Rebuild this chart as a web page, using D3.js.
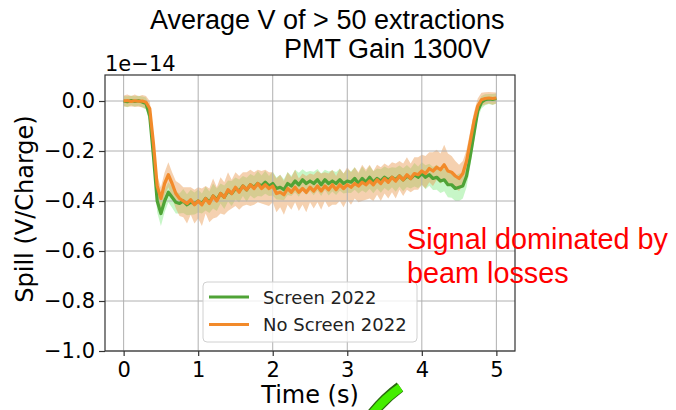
<!DOCTYPE html>
<html>
<head>
<meta charset="utf-8">
<script src="https://cdn.jsdelivr.net/npm/d3@7"></script>
<style>
    body { margin: 0; background: #fff; }
    #chart { width: 676px; height: 410px; }
    .tick text { font-family: "DejaVu Sans", sans-serif; font-size: 21px; fill: #000; }
</style>
</head>
<body>
<div id="chart"></div>
<script>

// sample times, one every 0.05 s from 0 to 5 s
const times = d3.range(101).map(function(i) { return i * 0.05; });

// mean spill (units of 1e-14 V/Charge)
const screenMean = [0.0,-0.003,0.002,-0.002,0.001,-0.004,-0.01,
    -0.06,-0.22,-0.40,-0.45,-0.40,-0.365,-0.385,
    -0.405,-0.41,-0.40,-0.415,-0.405,-0.41,-0.40,
    -0.41,-0.39,-0.405,-0.38,-0.395,-0.37,-0.385,-0.36,-0.37,-0.35,
    -0.36,-0.34,-0.355,-0.335,-0.345,-0.33,-0.34,-0.325,-0.34,-0.33,
    -0.35,-0.345,-0.355,-0.33,-0.34,-0.32,-0.335,-0.315,-0.33,-0.32,
    -0.33,-0.315,-0.335,-0.315,-0.33,-0.32,-0.33,-0.315,-0.33,-0.32,
    -0.325,-0.31,-0.33,-0.31,-0.325,-0.305,-0.325,-0.31,-0.32,-0.305,
    -0.315,-0.305,-0.315,-0.30,-0.315,-0.30,-0.31,-0.295,-0.305,-0.29,
    -0.305,-0.295,-0.31,-0.305,-0.32,-0.315,-0.335,-0.335,-0.35,-0.345,
    -0.34,-0.30,-0.22,-0.13,-0.04,-0.005,0.005,0.008,0.006,0.01];

const noScreenMean = [0.0,0.002,-0.002,0.001,-0.001,0.0,-0.005,
    -0.03,-0.17,-0.34,-0.39,-0.33,-0.295,-0.33,
    -0.37,-0.39,-0.40,-0.41,-0.395,-0.415,-0.40,
    -0.415,-0.39,-0.41,-0.38,-0.40,-0.37,-0.385,-0.355,-0.37,-0.345,
    -0.365,-0.34,-0.355,-0.335,-0.35,-0.33,-0.35,-0.335,-0.35,-0.34,
    -0.37,-0.365,-0.375,-0.35,-0.365,-0.345,-0.365,-0.35,-0.365,-0.345,
    -0.36,-0.34,-0.36,-0.34,-0.355,-0.335,-0.355,-0.335,-0.35,-0.335,
    -0.345,-0.33,-0.34,-0.325,-0.335,-0.32,-0.335,-0.315,-0.33,-0.31,
    -0.325,-0.305,-0.32,-0.30,-0.315,-0.295,-0.31,-0.29,-0.295,-0.28,
    -0.29,-0.27,-0.28,-0.265,-0.275,-0.255,-0.28,-0.285,-0.30,-0.31,
    -0.29,-0.24,-0.16,-0.08,-0.02,0.005,0.01,0.012,0.01,0.012];

// spread of the shaded bands
const screenSpread = [0.02,0.022,0.019,0.021,0.02,0.022,0.024,
    0.03,0.04,0.045,0.05,0.045,0.04,0.042,
    0.045,0.04,0.048,0.042,0.05,0.044,0.046,
    0.04,0.048,0.043,0.05,0.045,0.04,0.047,0.042,0.05,0.044,
    0.046,0.04,0.048,0.043,0.045,0.05,0.042,0.046,0.04,0.048,
    0.044,0.05,0.042,0.046,0.04,0.045,0.048,0.042,0.046,0.04,
    0.047,0.043,0.045,0.04,0.048,0.042,0.046,0.044,0.04,0.047,
    0.043,0.045,0.04,0.048,0.042,0.046,0.044,0.04,0.047,0.043,
    0.045,0.04,0.048,0.042,0.046,0.044,0.04,0.047,0.043,0.045,
    0.048,0.044,0.046,0.05,0.048,0.046,0.05,0.052,0.05,0.055,
    0.05,0.045,0.04,0.035,0.03,0.025,0.022,0.02,0.022,0.02];

const noScreenLow = [0.022,0.025,0.02,0.024,0.022,0.025,0.026,
    0.03,0.04,0.05,0.055,0.05,0.05,0.055,
    0.06,0.07,0.065,0.08,0.06,0.075,0.07,
    0.085,0.06,0.075,0.09,0.065,0.08,0.07,0.085,0.06,0.075,
    0.07,0.08,0.06,0.085,0.065,0.075,0.06,0.08,0.07,0.065,
    0.075,0.06,0.08,0.065,0.07,0.06,0.075,0.065,0.08,0.06,
    0.07,0.065,0.075,0.06,0.07,0.08,0.06,0.065,0.075,0.06,
    0.07,0.06,0.065,0.075,0.06,0.07,0.065,0.06,0.07,0.06,
    0.065,0.06,0.07,0.055,0.065,0.06,0.055,0.065,0.06,0.055,
    0.06,0.055,0.06,0.05,0.055,0.06,0.05,0.055,0.05,0.05,
    0.045,0.04,0.035,0.03,0.028,0.025,0.024,0.022,0.025,0.022];

const noScreenHigh = [0.022,0.024,0.022,0.025,0.02,0.024,0.025,
    0.03,0.035,0.04,0.045,0.045,0.05,0.045,
    0.05,0.06,0.055,0.065,0.05,0.06,0.055,
    0.065,0.05,0.06,0.07,0.055,0.065,0.06,0.07,0.055,0.06,
    0.065,0.055,0.07,0.06,0.065,0.055,0.07,0.06,0.065,0.055,
    0.06,0.07,0.055,0.065,0.06,0.07,0.055,0.06,0.065,0.055,
    0.065,0.06,0.07,0.055,0.065,0.06,0.055,0.065,0.06,0.07,
    0.06,0.065,0.055,0.07,0.06,0.065,0.055,0.06,0.065,0.06,
    0.065,0.06,0.07,0.06,0.065,0.07,0.06,0.065,0.07,0.065,
    0.07,0.065,0.075,0.07,0.065,0.08,0.07,0.065,0.06,0.055,
    0.05,0.045,0.04,0.035,0.03,0.028,0.025,0.024,0.025,0.022];

const xTicks = [0, 1, 2, 3, 4, 5];
const yTicks = [0.0, -0.2, -0.4, -0.6, -0.8, -1.0];
const seriesNames = ["Screen 2022", "No Screen 2022"];


const width = 676;
const height = 410;

const svg = d3.select("#chart")
    .append("svg")
    .attr("width", width)
    .attr("height", height);

const margin = {
    top: 75,
    left: 105,
    right: 161,
    bottom: 59
};

const xScale = d3.scaleLinear()
    .domain([-0.25, 5.25])
    .range([margin.left, width - margin.right]);

const yScale = d3.scaleLinear()
    .domain([-1.0, 0.104])
    .range([height - margin.bottom, margin.top]);

const green = "#4fa336";
const orange = "#f28a2a";

const screen = times.map(function(t, i) {
    return { t: t, v: screenMean[i], lo: screenMean[i] - screenSpread[i], hi: screenMean[i] + screenSpread[i] };
});
const noScreen = times.map(function(t, i) {
    return { t: t, v: noScreenMean[i], lo: noScreenMean[i] - noScreenLow[i], hi: noScreenMean[i] + noScreenHigh[i] };
});

const band = d3.area()
    .x(function(d) { return xScale(d.t); })
    .y0(function(d) { return yScale(d.lo); })
    .y1(function(d) { return yScale(d.hi); });

const line = d3.line()
    .x(function(d) { return xScale(d.t); })
    .y(function(d) { return yScale(d.v); });

// shaded bands go under the grid
svg.append("path")
    .datum(screen)
    .attr("d", band)
    .attr("fill", "#90ee90")
    .attr("fill-opacity", 0.5);

svg.append("path")
    .datum(noScreen)
    .attr("d", band)
    .attr("fill", "#e89a50")
    .attr("fill-opacity", 0.45);

// grid
svg.append("g")
    .selectAll("line")
    .data(xTicks)
    .enter()
    .append("line")
        .attr("x1", function(d) { return xScale(d); })
        .attr("x2", function(d) { return xScale(d); })
        .attr("y1", margin.top)
        .attr("y2", height - margin.bottom)
        .attr("stroke", "#b0b0b0")
        .attr("stroke-width", 1);

svg.append("g")
    .selectAll("line")
    .data(yTicks)
    .enter()
    .append("line")
        .attr("x1", margin.left)
        .attr("x2", width - margin.right)
        .attr("y1", function(d) { return yScale(d); })
        .attr("y2", function(d) { return yScale(d); })
        .attr("stroke", "#b0b0b0")
        .attr("stroke-width", 1);

svg.append("path")
    .datum(screen)
    .attr("d", line)
    .attr("fill", "none")
    .attr("stroke", green)
    .attr("stroke-width", 3.2)
    .attr("stroke-linejoin", "round");

svg.append("path")
    .datum(noScreen)
    .attr("d", line)
    .attr("fill", "none")
    .attr("stroke", orange)
    .attr("stroke-width", 3.2)
    .attr("stroke-linejoin", "round");

// axes
const xAxis = svg.append("g")
    .attr("transform", "translate(0," + (height - margin.bottom) + ")")
    .call(d3.axisBottom(xScale).tickValues(xTicks).tickFormat(d3.format("d")).tickSize(5).tickPadding(6));

const yAxis = svg.append("g")
    .attr("transform", "translate(" + margin.left + ",0)")
    .call(d3.axisLeft(yScale).tickValues(yTicks).tickFormat(d3.format(".1f")).tickSize(6).tickPadding(4));

xAxis.select(".domain").remove();
yAxis.select(".domain").remove();
svg.selectAll(".tick line").attr("stroke", "#333").attr("stroke-width", 1.2);

svg.append("rect")
    .attr("x", margin.left)
    .attr("y", margin.top)
    .attr("width", width - margin.left - margin.right)
    .attr("height", height - margin.top - margin.bottom)
    .attr("fill", "none")
    .attr("stroke", "#333")
    .attr("stroke-width", 1.2);

svg.append("text")
    .attr("x", margin.left)
    .attr("y", 71)
    .attr("font-family", "DejaVu Sans")
    .attr("font-size", 21)
    .text("1e\u221214");

// legend
const legend = svg.append("g")
    .attr("transform", "translate(203,282)");

legend.append("rect")
    .attr("width", 214)
    .attr("height", 60)
    .attr("rx", 4)
    .attr("fill", "#fff")
    .attr("fill-opacity", 0.8)
    .attr("stroke", "#d0d0d0");

legend.selectAll(".entry")
    .data(seriesNames)
    .enter()
    .append("g")
        .attr("class", "entry")
        .attr("transform", function(d, i) { return "translate(0," + (15 + i * 27.5) + ")"; })
        .each(function(d, i) {
            const g = d3.select(this);
            g.append("line")
                .attr("x1", 6).attr("x2", 46)
                .attr("stroke", i === 0 ? green : orange)
                .attr("stroke-width", 3);
            g.append("text")
                .attr("x", 60)
                .attr("y", 6.5)
                .attr("font-family", "DejaVu Sans")
                .attr("font-size", 18)
                .attr("fill", "#222")
                .text(d);
        });

const xAxisLabel = svg.append("text")
    .attr("x", (margin.left + width - margin.right) / 2)
    .attr("y", 403)
    .attr("text-anchor", "middle")
    .attr("font-family", "DejaVu Sans")
    .attr("font-size", 24)
    .text("Time (s)");

const yAxisLabel = svg.append("text")
    .attr("transform", "rotate(-90)")
    .attr("x", -209)
    .attr("y", 33)
    .attr("text-anchor", "middle")
    .attr("font-family", "DejaVu Sans")
    .attr("font-size", 24)
    .text("Spill (V/Charge)");

svg.append("text")
    .attr("x", 150)
    .attr("y", 29)
    .attr("font-family", "Liberation Sans, Arial, sans-serif")
    .attr("font-size", 27)
    .text("Average V of > 50 extractions");

svg.append("text")
    .attr("x", 284)
    .attr("y", 58)
    .attr("font-family", "Liberation Sans, Arial, sans-serif")
    .attr("font-size", 27)
    .text("PMT Gain 1300V");

// annotation in red
svg.append("text")
    .attr("x", 407)
    .attr("y", 249)
    .attr("font-family", "Liberation Sans, Arial, sans-serif")
    .attr("font-size", 28.8)
    .attr("fill", "#ff0000")
    .text("Signal dominated by");

svg.append("text")
    .attr("x", 407)
    .attr("y", 283)
    .attr("font-family", "Liberation Sans, Arial, sans-serif")
    .attr("font-size", 28.8)
    .attr("fill", "#ff0000")
    .text("beam losses");

// green arrow coming in from below the page
svg.append("path")
    .attr("d", "M400,387 Q385,398 372,414")
    .attr("fill", "none")
    .attr("stroke", "#2a6a10")
    .attr("stroke-width", 11);

svg.append("path")
    .attr("d", "M400.5,387.6 Q385,398 372,414")
    .attr("fill", "none")
    .attr("stroke", "#44ee00")
    .attr("stroke-width", 8.5);

</script>
</body>
</html>
